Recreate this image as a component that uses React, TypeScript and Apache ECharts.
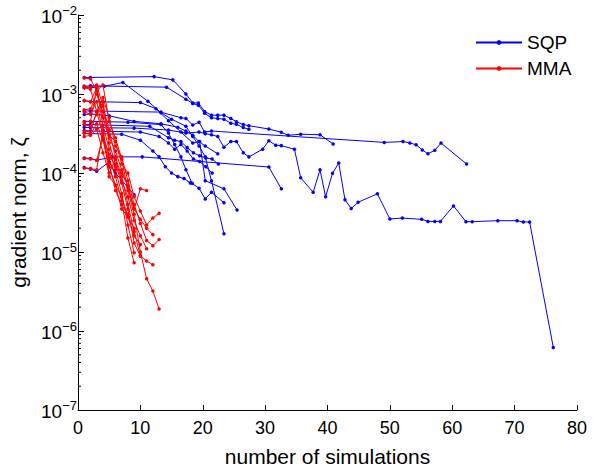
import React, { useEffect, useRef } from 'react';
import * as echarts from 'echarts';

// ---- data: [number of simulations, gradient norm] ----
const sqp1 = [[1,1.62e-3],[2,1.62e-3],[12.2,1.66e-3],[15.2,1.51e-3],[17.3,1.0e-3],[18.4,7.7e-4],[19.3,7.7e-4],[20.3,6.0e-4],[21.4,5.4e-4],[22.4,5.4e-4],[23.4,5.4e-4],[24.5,4.9e-4],[25.4,4.45e-4],[26.5,4.1e-4],[27.4,3.97e-4],[30.6,3.6e-4],[32.6,3.28e-4],[33.7,3.0e-4],[35.7,3.1e-4],[38.8,3.05e-4],[40.9,2.33e-4]];
const sqp2 = [[1,1.25e-3],[2,1.27e-3],[14.2,1.22e-3],[17.3,8.6e-4],[18.4,7.6e-4],[19.3,7.2e-4],[20.3,5.7e-4],[21.4,5.0e-4],[22.4,4.9e-4],[23.4,4.8e-4],[24.5,4.26e-4],[25.4,4.13e-4],[26.5,3.76e-4],[27.4,3.59e-4]];
const sqp3 = [[1,6.1e-4],[2,6.1e-4],[13.3,5.9e-4],[16.5,5.0e-4],[17.3,4.9e-4],[18.4,4.05e-4],[19.4,4.4e-4],[20.3,3.3e-4],[21.4,3.4e-4],[49.1,2.44e-4],[52.1,2.5e-4],[53.2,2.4e-4],[54.2,2.28e-4],[55.2,1.96e-4],[56.1,1.75e-4],[57.2,1.94e-4],[58.2,2.39e-4],[62.3,1.3e-4]];
const sqp4 = [[1,3.8e-4],[2,3.75e-4],[9,3.7e-4],[14.5,3.5e-4],[17.3,3.2e-4],[19.4,3.3e-4],[20.4,3.15e-4],[21.4,3.05e-4],[22.4,2.9e-4],[23.4,2.12e-4],[24.5,2.5e-4],[25.4,2.5e-4],[26.5,1.8e-4],[27.4,1.6e-4],[29.6,2.0e-4],[30.6,2.56e-4],[31.7,2.25e-4],[32.6,2.22e-4],[34.7,2.0e-4],[35.7,8.7e-5],[37.7,5.7e-5],[38.8,1.1e-4],[39.7,5.0e-5],[40.8,9.9e-5],[41.8,1.34e-4],[42.8,4.6e-5],[43.8,3.55e-5],[44.9,4.26e-5],[48,5.45e-5],[50,2.62e-5],[52,2.69e-5],[55.1,2.59e-5],[56.1,2.44e-5],[57.2,2.44e-5],[58.1,2.44e-5],[60.2,3.83e-5],[62.2,2.42e-5],[63.2,2.42e-5],[67.3,2.49e-5],[70.4,2.49e-5],[71.4,2.4e-5],[72.4,2.4e-5],[76.2,6.2e-7]];
const sqp5 = [[1,5.5e-4],[2,5.6e-4],[5,5.3e-4],[9,4.5e-4],[13.3,4.2e-4],[16,3.8e-4],[17.3,3.4e-4],[18.4,3.0e-4],[19.4,2.5e-4],[20.4,2.2e-4],[22.4,1.75e-4]];
const sqp6 = [[1,1.55e-4],[2,1.53e-4],[3,1.45e-4],[5.5,1.6e-4],[10.3,1.6e-4],[30.6,1.19e-4],[32.6,6.3e-5]];
const sqp7 = [[1,1.17e-4],[2,1.12e-4],[3,1.05e-4],[5,1.38e-4],[6,1.0e-4],[9,5.3e-5]];
const sqp8 = [[1,1.2e-3],[2,1.2e-3],[4.2,1.25e-3],[7.2,1.4e-3],[11.2,8.1e-4],[13.3,5.8e-4],[15,4.8e-4],[17.3,3.9e-4],[18.4,2.9e-4],[19.4,2.2e-4],[20.4,1.6e-4],[21.4,8e-5],[23.4,1.7e-5]];
const sqp9 = [[1,8.2e-4],[2,8.0e-4],[10,7.8e-4],[12.5,6.5e-4],[14.5,4.6e-4],[16.5,3.3e-4],[18.4,2.4e-4],[19.5,2.5e-4],[20.4,8e-5],[23.4,6.3e-5],[25.5,3.4e-5]];
const sqp10 = [[1,4.5e-4],[2,4.5e-4],[8,4.4e-4],[13.3,4.1e-4],[14.5,3.2e-4],[15.5,2.3e-4],[16.5,1.6e-4],[17.3,1.1e-4],[18.3,7.4e-5],[19.4,6.4e-5],[20.4,4.7e-5],[21.4,5.7e-5],[23.4,4.2e-5]];
const sqp11 = [[1,3.45e-4],[2,3.4e-4],[10,3.3e-4],[13,2.9e-4],[14.5,2.4e-4],[15.5,2.0e-4],[16.5,2.3e-4],[17.5,1.9e-4],[18.5,1.5e-4],[19.5,1.4e-4],[20.5,1.2e-4],[21.5,1.0e-4]];
const sqp12 = [[1,4.1e-4],[2,4.1e-4],[11.5,3.9e-4],[14.5,2.8e-4],[15.5,2.6e-4],[16.5,2.5e-4],[17.5,2.1e-4],[18.5,1.8e-4],[19.5,1.65e-4],[20.5,1.55e-4],[21.5,1.5e-4],[22.5,1.3e-4]];
const sqp13 = [[1,3.2e-4],[2,3.15e-4],[7,3.1e-4],[10,2.6e-4],[12,1.9e-4],[13,1.6e-4],[14,1.2e-4],[15,1.0e-4],[16,9e-5],[17,8.5e-5],[18,7.5e-5]];

const mma1 = [[1,1.6e-3],[2,1.55e-3],[3,1.1e-3],[4,1.3e-3],[5,4.5e-4],[6,2.8e-4],[7,1.5e-4],[8,6e-5],[9,3e-5],[10,1e-5],[11,4.6e-6],[12,3.2e-6],[13,1.9e-6]];
const mma2 = [[1,1.25e-3],[2,1.22e-3],[3,1.3e-3],[4,7e-4],[5,3.5e-4],[6,1.6e-4],[7,9e-5],[8,4e-5],[9,1.8e-5],[10,9e-6],[11,7.7e-6],[12,6.9e-6]];
const mma3 = [[1,1.2e-3],[2,1.15e-3],[3,6e-4],[4,9e-4],[5,5e-4],[6,2.2e-4],[7,1.6e-4],[8,8e-5],[9,4e-5],[10,2.3e-5],[11,1.4e-5],[12,1.2e-5],[13,1.44e-5]];
const mma4 = [[1,8.3e-4],[2,8e-4],[3,1.2e-3],[4,5e-4],[5,2.8e-4],[6,1.9e-4],[7,1.1e-4],[8,6.5e-5],[9,3.5e-5],[10,2.6e-5],[11,2e-5],[12,1.66e-5]];
const mma5 = [[1,6.3e-4],[2,6.5e-4],[3,1.0e-3],[4,6e-4],[5,3e-4],[6,2.5e-4],[7,1.3e-4],[8,1e-4],[9,5e-5],[10,3.3e-5],[11,2.2e-5],[12,2.7e-5],[13,3.1e-5]];
const mma6 = [[1,5.9e-4],[2,5.6e-4],[3,8e-4],[4,3.2e-4],[5,1.5e-4],[6,9e-5],[7,4.5e-5],[8,1.5e-5],[9,7.3e-6]];
const mma7 = [[1,4.45e-4],[2,4.5e-4],[3,1.2e-3],[4,4e-4],[5,2e-4],[6,1.1e-4],[7,5.5e-5],[8,2.2e-5],[9,9.8e-6]];
const mma8 = [[1,4.1e-4],[2,3.9e-4],[3,5.5e-4],[4,8e-4],[5,2.4e-4],[6,1.3e-4],[7,7.5e-5],[8,3.5e-5],[9,1.3e-5],[10,8.9e-6]];
const mma9 = [[1,3.4e-4],[2,3.3e-4],[3,6e-4],[4,3e-4],[5,1.7e-4],[6,1.2e-4],[7,1e-4],[8,7e-5],[9,3.5e-5],[10,6.3e-5],[11,6e-5]];
const mma10 = [[1,3.2e-4],[2,3.1e-4],[3,4.2e-4],[4,2.6e-4],[5,1.2e-4],[6,7e-5],[7,5e-5],[8,2.8e-5],[9,1.6e-5],[10,1.24e-5]];
const mma11 = [[1,2.9e-4],[2,3e-4],[3,3.6e-4],[4,1.8e-4],[5,1e-4],[6,1.5e-4],[7,8e-5],[8,5e-5],[9,2.5e-5],[10,1.6e-5],[11,1.1e-5]];
const mma12 = [[1,1.53e-4],[2,1.5e-4],[3,1.45e-4],[4,2.8e-4],[5,1.3e-4],[6,6e-5],[7,4e-5],[8,3e-5]];
const mma13 = [[1,1.16e-4],[2,1.14e-4],[3,1.1e-4],[4,3.5e-4],[5,9e-5],[6,7e-5],[7,3.5e-5],[8,2.8e-5],[9,2e-5]];

const sqpRuns = [sqp1, sqp2, sqp3, sqp4, sqp5, sqp6, sqp7, sqp8, sqp9, sqp10, sqp11, sqp12, sqp13];
const mmaRuns = [mma1, mma2, mma3, mma4, mma5, mma6, mma7, mma8, mma9, mma10, mma11, mma12, mma13];

const xTickValues = [0, 10, 20, 30, 40, 50, 60, 70, 80];
const yDecades = [-7, -6, -5, -4, -3, -2];
const minorMultipliers = [2, 3, 4, 5, 6, 7, 8, 9];

const FONT = 'Liberation Sans, Arial, Helvetica, sans-serif';

export default function App() {
  const ref = useRef<HTMLDivElement>(null);
  useEffect(() => {
    document.body.style.margin = '0';
    const chart = echarts.init(ref.current!, null, { renderer: 'svg' });
    const minorVals: number[][] = [];
    yDecades.slice(0, -1).forEach((e) => {
      minorMultipliers.forEach((m) => minorVals.push([0, m * Math.pow(10, e)]));
    });
    const lineSeries = (name: string, color: string, data: number[][]) => ({
      type: 'line',
      name,
      data,
      symbol: 'circle',
      symbolSize: 3.5,
      showSymbol: true,
      lineStyle: { color, width: 1 },
      itemStyle: { color },
      emphasis: { disabled: true },
      z: name === 'MMA' ? 4 : 3,
    });
    const option: any = {
      animation: false,
      backgroundColor: '#fff',
      textStyle: { fontFamily: FONT },
      grid: { left: 77, right: 20, top: 15, bottom: 55, containLabel: false },
      legend: {
        data: ['SQP', 'MMA'],
        orient: 'vertical',
        left: 470,
        top: 28,
        itemWidth: 46,
        itemHeight: 6,
        itemGap: 7,
        textStyle: { fontSize: 19, color: '#000', fontFamily: FONT },
      },
      xAxis: {
        type: 'value',
        min: xTickValues[0],
        max: xTickValues[xTickValues.length - 1],
        interval: 10,
        name: 'number of simulations',
        nameLocation: 'middle',
        nameGap: 36,
        nameTextStyle: { fontSize: 21, color: '#000', fontFamily: FONT },
        axisLine: { lineStyle: { color: '#000', width: 1 } },
        axisTick: { inside: true, length: 5, lineStyle: { color: '#000' } },
        axisLabel: { fontSize: 18, color: '#000', margin: 9, fontFamily: FONT },
        splitLine: { show: false },
      },
      yAxis: {
        type: 'log',
        logBase: 10,
        min: 1e-7,
        max: 1e-2,
        name: 'gradient norm, ζ',
        nameLocation: 'middle',
        nameGap: 49,
        nameTextStyle: { fontSize: 21, color: '#000', fontFamily: FONT },
        axisLine: { show: true, lineStyle: { color: '#000', width: 1 } },
        axisTick: { inside: true, length: 6, lineStyle: { color: '#000' } },
        axisLabel: {
          margin: 1,
          formatter: (v: number) => `{b|10}{s|\u2212${Math.abs(Math.round(Math.log10(v)))}}`,
          rich: {
            b: { fontSize: 19, color: '#000', fontFamily: FONT, verticalAlign: 'bottom' },
            s: { fontSize: 13, color: '#000', fontFamily: FONT, verticalAlign: 'bottom', padding: [0, 0, 9, 0] },
          },
        },
        splitLine: { show: false },
      },
      series: [
        ...sqpRuns.map((d) => lineSeries('SQP', '#0000ff', d)),
        ...mmaRuns.map((d) => lineSeries('MMA', '#ff0000', d)),
        {
          type: 'custom',
          name: 'minor',
          silent: true,
          clip: false,
          z: 10,
          data: minorVals,
          renderItem: (params: any, api: any) => {
            const p = api.coord([0, api.value(1)]);
            return {
              type: 'line',
              shape: { x1: p[0], y1: p[1], x2: p[0] + 3, y2: p[1] },
              style: { stroke: '#000', lineWidth: 1 },
            };
          },
        },
      ],
    };
    chart.setOption(option);
    return () => chart.dispose();
  }, []);
  return <div ref={ref} style={{ width: 597, height: 472 }} />;
}
